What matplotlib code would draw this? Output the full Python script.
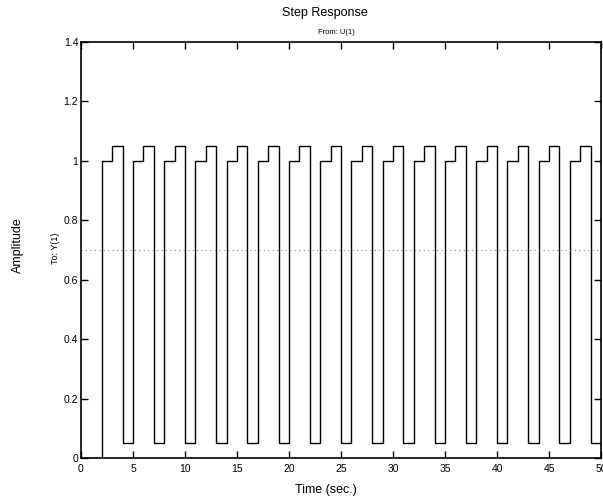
import matplotlib
matplotlib.use("Agg")
import matplotlib.pyplot as plt

plt.rcParams['font.family'] = ['Liberation Sans', 'DejaVu Sans']

time_s = list(range(0, 51))
amplitude = [0.0, 0.0,
             1.0, 1.05, 0.05, 1.0, 1.05, 0.05, 1.0, 1.05, 0.05, 1.0, 1.05, 0.05,
             1.0, 1.05, 0.05, 1.0, 1.05, 0.05, 1.0, 1.05, 0.05, 1.0, 1.05, 0.05,
             1.0, 1.05, 0.05, 1.0, 1.05, 0.05, 1.0, 1.05, 0.05, 1.0, 1.05, 0.05,
             1.0, 1.05, 0.05, 1.0, 1.05, 0.05, 1.0, 1.05, 0.05, 1.0, 1.05, 0.05,
             0.05]
ref_level = 0.7
x_ticks = [0, 5, 10, 15, 20, 25, 30, 35, 40, 45, 50]
y_ticks = [0, 0.2, 0.4, 0.6, 0.8, 1.0, 1.2, 1.4]
y_tick_labels = ["0", "0.2", "0.4", "0.6", "0.8", "1", "1.2", "1.4"]

fig = plt.figure(figsize=(6.03, 4.99), dpi=100)
ax = fig.add_axes([81/603, 1 - 458/499, 520/603, (458 - 42)/499])

ax.step(time_s, amplitude, where='post', color='black', linewidth=1.0)
ax.axhline(ref_level, color='#888888', linestyle=(0, (1, 3)), linewidth=0.8)

ax.set_xlim(0, 50)
ax.set_ylim(0, 1.4)
ax.set_xticks(x_ticks)
ax.set_xticklabels([str(v) for v in x_ticks])
ax.set_yticks(y_ticks)
ax.set_yticklabels(y_tick_labels)
ax.tick_params(direction='in', length=5, width=1, labelsize=7.5,
               top=True, right=True)
ax.tick_params(axis='x', pad=4)
ax.tick_params(axis='y', pad=2)
for sp in ax.spines.values():
    sp.set_linewidth(1.2)

fig.text(325/603, 1 - 13/499, "Step Response", ha='center', va='center', fontsize=9)
fig.text(336/603, 1 - 32/499, "From: U(1)", ha='center', va='center', fontsize=5.5)
fig.text(326/603, 1 - 490/499, "Time (sec.)", ha='center', va='center', fontsize=9)
fig.text(18/603, 1 - 245/499, "Amplitude", ha='center', va='center', rotation=90, fontsize=9)
fig.text(55/603, 1 - 248/499, "To: Y(1)", ha='center', va='center', rotation=90, fontsize=6.5)

fig.savefig("out.png", dpi=100)
